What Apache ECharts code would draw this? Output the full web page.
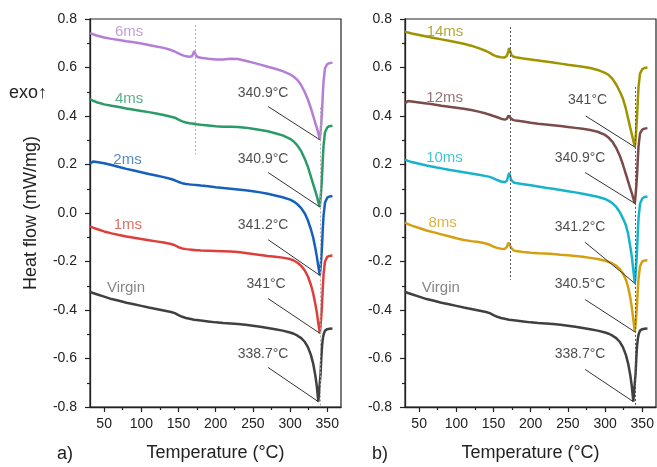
<!DOCTYPE html>
<html><head><meta charset="utf-8">
<script src="https://cdn.jsdelivr.net/npm/echarts@6/dist/echarts.min.js"></script>
<style>html,body{margin:0;padding:0;background:#fff}#c{width:657px;height:467px}</style>
</head><body><div id="c"></div>
<script>
// ---------- data ----------
const temps = [31,35,40,50,60,70,80,90,100,110,120,130,140,145,150,155,160,165,168,170,171,172,174,177,180,190,200,210,220,230,240,250,260,270,280,290,300,305,310,315,320,324,328,331,334,336,338,340,341,342,343,344,345,347,350,353,357];

const virgin = [-0.325,-0.33,-0.335,-0.345,-0.355,-0.362,-0.37,-0.376,-0.383,-0.39,-0.396,-0.402,-0.408,-0.413,-0.421,-0.428,-0.433,-0.436,-0.438,-0.439,-0.44,-0.44,-0.441,-0.442,-0.443,-0.447,-0.451,-0.454,-0.456,-0.458,-0.461,-0.465,-0.469,-0.474,-0.479,-0.485,-0.493,-0.498,-0.506,-0.516,-0.532,-0.553,-0.585,-0.62,-0.67,-0.715,-0.778,-0.70,-0.665,-0.60,-0.55,-0.52,-0.502,-0.485,-0.479,-0.477,-0.476];
const ms1 = [-0.055,-0.06,-0.066,-0.076,-0.084,-0.091,-0.097,-0.102,-0.107,-0.112,-0.117,-0.122,-0.128,-0.133,-0.141,-0.146,-0.149,-0.151,-0.152,-0.153,-0.153,-0.153,-0.154,-0.154,-0.155,-0.156,-0.157,-0.158,-0.159,-0.161,-0.165,-0.169,-0.173,-0.177,-0.18,-0.184,-0.19,-0.196,-0.205,-0.218,-0.238,-0.262,-0.296,-0.33,-0.375,-0.41,-0.455,-0.496,-0.466,-0.425,-0.377,-0.31,-0.255,-0.2,-0.181,-0.177,-0.175];
const ms2 = [0.203,0.212,0.21,0.205,0.198,0.19,0.182,0.175,0.168,0.161,0.155,0.148,0.14,0.135,0.128,0.123,0.12,0.118,0.117,0.116,0.116,0.115,0.115,0.114,0.113,0.11,0.106,0.103,0.1,0.097,0.094,0.09,0.085,0.079,0.072,0.065,0.055,0.047,0.036,0.02,-0.003,-0.03,-0.067,-0.1,-0.145,-0.18,-0.22,-0.257,-0.225,-0.185,-0.136,-0.067,-0.012,0.043,0.063,0.068,0.07];
const ms4 = [0.47,0.463,0.457,0.448,0.442,0.437,0.431,0.426,0.421,0.416,0.41,0.404,0.397,0.393,0.385,0.378,0.373,0.37,0.369,0.368,0.368,0.367,0.366,0.365,0.364,0.361,0.358,0.356,0.356,0.355,0.352,0.347,0.342,0.337,0.329,0.32,0.306,0.295,0.278,0.255,0.222,0.19,0.15,0.12,0.09,0.07,0.045,0.025,0.06,0.1,0.15,0.22,0.277,0.333,0.353,0.358,0.36];
const ms6 = [0.742,0.737,0.732,0.724,0.718,0.713,0.708,0.704,0.699,0.693,0.687,0.681,0.672,0.666,0.658,0.651,0.646,0.644,0.646,0.658,0.668,0.66,0.647,0.642,0.64,0.636,0.633,0.633,0.636,0.635,0.628,0.62,0.612,0.603,0.595,0.585,0.572,0.562,0.548,0.527,0.497,0.468,0.432,0.402,0.37,0.352,0.328,0.302,0.334,0.372,0.42,0.488,0.542,0.597,0.614,0.618,0.62];
const ms8 = [-0.04,-0.046,-0.052,-0.062,-0.072,-0.08,-0.088,-0.096,-0.104,-0.111,-0.116,-0.12,-0.126,-0.131,-0.139,-0.144,-0.147,-0.148,-0.14,-0.122,-0.115,-0.124,-0.145,-0.154,-0.157,-0.161,-0.164,-0.166,-0.167,-0.169,-0.172,-0.174,-0.177,-0.18,-0.185,-0.19,-0.197,-0.202,-0.208,-0.218,-0.232,-0.248,-0.275,-0.305,-0.35,-0.39,-0.44,-0.49,-0.46,-0.425,-0.38,-0.32,-0.27,-0.22,-0.2,-0.196,-0.195];
const ms10 = [0.22,0.215,0.21,0.203,0.196,0.19,0.184,0.178,0.173,0.168,0.163,0.158,0.152,0.149,0.143,0.136,0.13,0.127,0.133,0.155,0.165,0.155,0.135,0.126,0.124,0.119,0.114,0.109,0.104,0.1,0.095,0.09,0.085,0.079,0.073,0.067,0.058,0.05,0.04,0.025,0.003,-0.022,-0.05,-0.085,-0.14,-0.18,-0.235,-0.29,-0.254,-0.21,-0.156,-0.08,-0.022,0.038,0.06,0.066,0.068];
const ms12 = [0.452,0.462,0.46,0.456,0.452,0.447,0.442,0.438,0.434,0.43,0.425,0.418,0.41,0.405,0.4,0.395,0.389,0.385,0.388,0.402,0.41,0.402,0.388,0.383,0.381,0.377,0.372,0.368,0.365,0.362,0.359,0.355,0.351,0.347,0.342,0.335,0.322,0.31,0.293,0.268,0.235,0.2,0.16,0.13,0.1,0.082,0.06,0.04,0.072,0.11,0.155,0.22,0.275,0.328,0.344,0.348,0.35];
const ms14 = [0.748,0.744,0.74,0.734,0.728,0.722,0.716,0.71,0.704,0.698,0.69,0.68,0.668,0.66,0.651,0.645,0.642,0.641,0.648,0.668,0.68,0.67,0.652,0.644,0.642,0.637,0.633,0.629,0.625,0.621,0.616,0.611,0.607,0.603,0.598,0.59,0.578,0.569,0.553,0.53,0.5,0.472,0.43,0.39,0.35,0.325,0.298,0.272,0.305,0.345,0.395,0.462,0.52,0.575,0.593,0.598,0.6];

const leftNames = ['Virgin','1ms','2ms','4ms','6ms'];
const rightNames = ['Virgin','8ms','10ms','12ms','14ms'];

// series name label anchors (temperature, value)
const leftNameT = [79.4, 82, 81.4, 83.5, 83.5];
const leftNameV = [-0.309, -0.05, 0.22, 0.47, 0.747];
const rightNameT = [79.2, 81.5, 84.1, 84.4, 84.8];
const rightNameV = [-0.309, -0.039, 0.227, 0.474, 0.748];

// peak temperature annotations
const leftPeakText = ['338.7°C','341°C','341.2°C','340.9°C','340.9°C'];
const leftPeakTextT = [263.7, 267.8, 263.7, 263.7, 263.7];
const leftPeakTextV = [-0.583, -0.295, -0.049, 0.224, 0.496];
const leftLeadT = [270.5, 270.5, 270.5, 270.5, 270.5];
const leftLeadV = [-0.637, -0.353, -0.11, 0.167, 0.439];
const leftPeakT = [338, 340, 340, 340, 340];
const leftPeakV = [-0.778, -0.496, -0.257, 0.025, 0.302];

const rightPeakText = ['338.7°C','340.5°C','341.2°C','340.9°C','341°C'];
const rightPeakTextT = [266.4, 266.4, 266.4, 266.4, 276.5];
const rightPeakTextV = [-0.583, -0.295, -0.059, 0.227, 0.467];
const rightLeadT = [273.2, 273.2, 273.2, 273.2, 274];
const rightLeadV = [-0.645, -0.357, -0.121, 0.167, 0.40];
const rightPeakT = [338, 340, 340, 340, 340];
const rightPeakV = [-0.778, -0.49, -0.29, 0.04, 0.272];

// dotted reference lines: temperature, from, to
const leftRefT = [340, 172];
const leftRefFrom = [0.435, 0.775];
const leftRefTo = [-0.8, 0.242];
const rightRefT = [172, 340.5];
const rightRefFrom = [0.767, 0.52];
const rightRefTo = [-0.275, -0.8];

const xTicks = [50,100,150,200,250,300,350];
const xMinorTicks = [75,125,175,225,275,325];

// ---------- styles ----------
const FONT = 'Liberation Sans, Arial, sans-serif';
const leftColors = ['#404040','#dd3f3a','#1560bd','#2a9a68','#b47ed6'];
const rightColors = ['#404040','#d4a012','#17b4c9','#7a4b4b','#9e9400'];
const labelColors = {left:['#666666','#d9483f','#2a6cc0','#2f9a6a','#b583d6'], right:['#666666','#d4a012','#17b4c9','#7a5050','#9e9400']};

const leftData = [virgin, ms1, ms2, ms4, ms6];
const rightData = [virgin, ms8, ms10, ms12, ms14];

function pairs(vals){ return temps.map((t,i)=>[t, vals[i]]); }

function xAxes(grid){
  return [{
    type:'value', gridIndex:grid, min:31, max:368.5, position:'bottom',
    axisLine:{show:true, onZero:false, lineStyle:{color:'#222', width:1.3}},
    axisTick:{show:true, length:5, inside:false, customValues:xTicks, lineStyle:{color:'#222', width:1.2}},
    axisLabel:{show:true, customValues:xTicks, margin:10, fontSize:14, color:'#222', fontFamily:FONT},
    splitLine:{show:false},
    name:'Temperature (°C)', nameLocation:'middle', nameGap:37,
    nameTextStyle:{fontSize:18, color:'#222', fontFamily:FONT}
  },{
    type:'value', gridIndex:grid, min:31, max:368.5, position:'bottom',
    axisLine:{show:false, onZero:false},
    axisTick:{show:true, length:3, customValues:xMinorTicks, lineStyle:{color:'#222', width:1.2}},
    axisLabel:{show:false}, splitLine:{show:false}
  }];
}
function yAxis(grid, withName){
  return {
    type:'value', gridIndex:grid, min:-0.8, max:0.8, interval:0.2,
    axisLine:{show:true, onZero:false, lineStyle:{color:'#222', width:1.3}},
    axisTick:{show:true, length:5, lineStyle:{color:'#222', width:1.2}},
    minorTick:{show:true, splitNumber:2, length:3, lineStyle:{color:'#222', width:1.2}},
    axisLabel:{margin:13, fontSize:14, color:'#222', fontFamily:FONT,
      formatter:v=>(Math.abs(v)<1e-9?0:v).toFixed(1)},
    splitLine:{show:false},
    name: withName ? 'Heat flow (mW/mg)' : '', nameLocation:'middle', nameGap:50,
    nameTextStyle:{fontSize:18, color:'#222', fontFamily:FONT}
  };
}

function panelSeries(xi, yi, names, datas, colors, lblColors, nT, nV, pText, pTT, pTV, lT, lV, pkT, pkV, rT, rF, rTo, refStyle){
  const s = [];
  s.push({
    type:'line', xAxisIndex:xi, yAxisIndex:yi, data:[], silent:true, z:1,
    markLine:{silent:true, symbol:['none','none'], label:{show:false},
      lineStyle:refStyle,
      data: rT.map((t,i)=>[{coord:[t, rF[i]]},{coord:[t, rTo[i]]}])}
  });
  names.forEach((n,i)=>{
    s.push({type:'line', name:n, xAxisIndex:xi, yAxisIndex:yi, data:pairs(datas[i]),
      showSymbol:false, symbol:'none', lineStyle:{color:colors[i], width:2.5}, itemStyle:{color:colors[i]}, z:3});
  });
  s.push({
    type:'scatter', xAxisIndex:xi, yAxisIndex:yi, symbolSize:1, itemStyle:{color:'rgba(0,0,0,0)'}, z:5, silent:true,
    data: names.map((n,i)=>({value:[nT[i], nV[i], n],
      label:{show:true, position:'inside', formatter:n, color:lblColors[i], fontSize:15, fontFamily:FONT}}))
  });
  s.push({
    type:'scatter', xAxisIndex:xi, yAxisIndex:yi, symbolSize:1, itemStyle:{color:'rgba(0,0,0,0)'}, z:5, silent:true,
    data: pText.map((txt,i)=>({value:[pTT[i], pTV[i], txt],
      label:{show:true, position:'inside', formatter:txt, color:'#222', fontSize:14, fontFamily:FONT}})),
    markLine:{silent:true, symbol:['none','none'], label:{show:false},
      lineStyle:{color:'#333', width:1, type:'solid'},
      data: lT.map((t,i)=>[{coord:[t, lV[i]]},{coord:[pkT[i], pkV[i]]}])}
  });
  return s;
}

const chart = echarts.init(document.getElementById('c'), null, {renderer:'canvas'});
chart.setOption({
  animation:false,
  backgroundColor:'#fff',
  grid:[
    {left:90, right:316, top:19, bottom:58, show:true, borderColor:'#222', borderWidth:1.2, backgroundColor:'transparent'},
    {left:405, right:1, top:19, bottom:59, show:true, borderColor:'#222', borderWidth:1.2, backgroundColor:'transparent'}
  ],
  xAxis:[...xAxes(0), ...xAxes(1)],
  yAxis:[yAxis(0,true), yAxis(1,false)],
  graphic:[
    {type:'text', left:9, top:84, style:{text:'exo↑', fill:'#222', font:'18px '+FONT}},
    {type:'text', left:57, top:445, style:{text:'a)', fill:'#222', font:'18px '+FONT}},
    {type:'text', left:372, top:445, style:{text:'b)', fill:'#222', font:'18px '+FONT}}
  ],
  series:[
    ...panelSeries(0,0,leftNames,leftData,leftColors,labelColors.left,leftNameT,leftNameV,
      leftPeakText,leftPeakTextT,leftPeakTextV,leftLeadT,leftLeadV,leftPeakT,leftPeakV,
      leftRefT,leftRefFrom,leftRefTo,{color:'#aaa', width:1, type:[2,2]}),
    ...panelSeries(2,1,rightNames,rightData,rightColors,labelColors.right,rightNameT,rightNameV,
      rightPeakText,rightPeakTextT,rightPeakTextV,rightLeadT,rightLeadV,rightPeakT,rightPeakV,
      rightRefT,rightRefFrom,rightRefTo,{color:'#555', width:1, type:[2,2]})
  ]
});
</script></body></html>
